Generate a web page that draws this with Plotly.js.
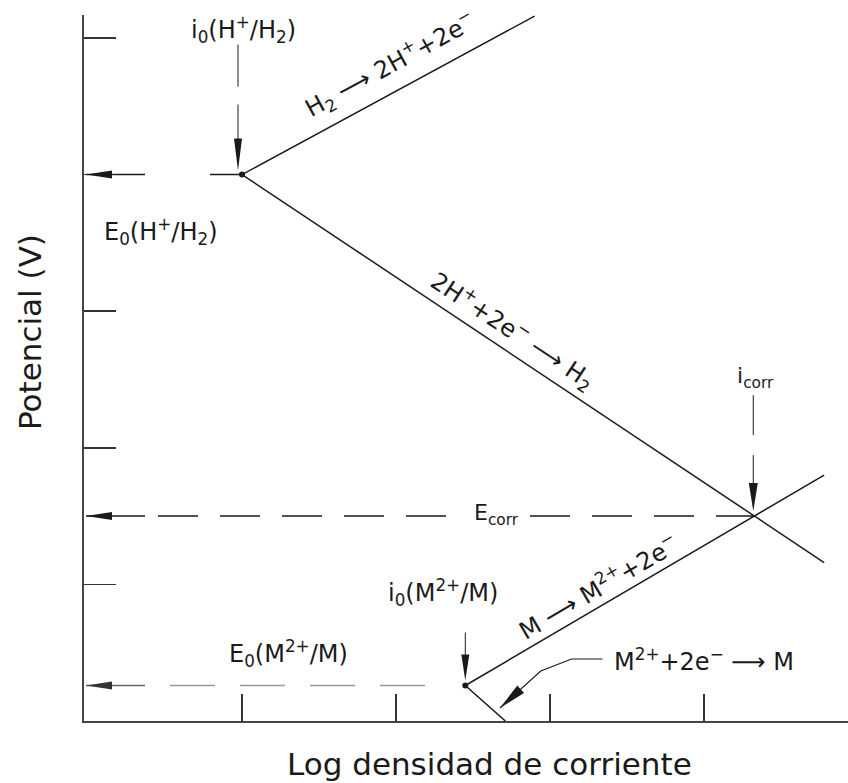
<!DOCTYPE html>
<html>
<head>
<meta charset="utf-8">
<script src="https://cdn.plot.ly/plotly-3.0.1.min.js"></script>
<style>html,body{margin:0;padding:0;background:#fff;}</style>
</head>
<body>
<div id="chart" style="width:848px;height:783px;"></div>
<script>
// ---- data (units: x = log current density, y = potential, arbitrary) ----
const xTicks = [1, 2, 3, 4];
const yTicks = [1, 2, 3, 4, 5];
const ptI0H   = [1.00, 4.00];   // i0(H+/H2), E0(H+/H2)
const endHox  = [2.90, 5.16];   // H2 -> 2H+ + 2e-
const endHred = [4.78, 1.16];   // 2H+ + 2e- -> H2
const ptI0M   = [2.45, 0.26];   // i0(M2+/M), E0(M2+/M)
const endMox  = [4.78, 1.80];   // M -> M2+ + 2e-
const endMred = [2.71, 0.00];   // M2+ + 2e- -> M
const ptCorr  = [4.32, 1.50];   // icorr, Ecorr
const leaderX = [3.34, 3.14, 2.94];
const leaderY = [0.454, 0.454, 0.366];
const leaderTip = [2.675, 0.095];

const xr = [-0.026, 4.935], yr = [0, 5.168];
const W = 848, H = 783, M = {l: 84, r: 0, t: 15, b: 62};
const kx = (W - M.l - M.r) / (xr[1] - xr[0]);
const ky = (H - M.t - M.b) / (yr[1] - yr[0]);
const px2x = p => (p) / kx, px2y = p => (p) / ky;

const ink = '#1a1a1a';
const FONT = 'DejaVu Sans, Liberation Sans, Arial, sans-serif';

function seg(xs, ys, opts) {
  return Object.assign({type: 'scatter', mode: 'lines', x: xs, y: ys, hoverinfo: 'skip',
    showlegend: false, line: {color: ink, width: 1.5}}, opts || {});
}
// arrowhead as a filled triangle path (tip, direction from 'from' point)
function head(tip, from, len, hw, color) {
  const dxp = (tip[0] - from[0]) * kx, dyp = -(tip[1] - from[1]) * ky;
  const L = Math.hypot(dxp, dyp), ux = dxp / L, uy = dyp / L;
  const bx = -len * ux, by = -len * uy, nx = -uy * hw, ny = ux * hw;
  const toD = (ox, oy) => [tip[0] + ox / kx, tip[1] - oy / ky];
  const a = toD(bx + nx, by + ny), b = toD(bx - nx, by - ny);
  return {type: 'path', xref: 'x', yref: 'y', path: `M${tip[0]},${tip[1]} L${a[0]},${a[1]} L${b[0]},${b[1]} Z`,
    fillcolor: color || ink, line: {width: 0}};
}

const axisLeftX = xr[0] + px2x(2);
const tailX = ptI0H[0] - px2x(97);   // horizontal arrow tails (x ~ 145px)

const traces = [
  seg([ptI0H[0], endHox[0]], [ptI0H[1], endHox[1]]),
  seg([ptI0H[0], endHred[0]], [ptI0H[1], endHred[1]]),
  seg([ptI0M[0], endMox[0]], [ptI0M[1], endMox[1]]),
  seg([ptI0M[0], endMred[0]], [ptI0M[1], endMred[1]]),
  // E0(H+/H2) level
  seg([axisLeftX, tailX], [ptI0H[1], ptI0H[1]]),
  seg([ptI0H[0] - px2x(32), ptI0H[0]], [ptI0H[1], ptI0H[1]]),
  // Ecorr level
  seg([axisLeftX, tailX], [ptCorr[1], ptCorr[1]]),
  seg([tailX + px2x(13), ptCorr[0]], [ptCorr[1], ptCorr[1]], {line: {color: ink, width: 1.5, dash: '40px,22px'}}),
  // E0(M2+/M) level (grey)
  seg([axisLeftX, tailX], [ptI0M[1], ptI0M[1]], {line: {color: '#666', width: 1.5}}),
  seg([tailX + px2x(25), ptI0M[0] - px2x(35)], [ptI0M[1], ptI0M[1]], {line: {color: '#999', width: 1.5, dash: '45px,25px'}}),
  // vertical pointers
  seg([ptI0H[0] - px2x(4), ptI0H[0] - px2x(4)], [ptI0H[1] + px2y(130), ptI0H[1] + px2y(88)], {line: {color: ink, width: 1}}),
  seg([ptI0H[0] - px2x(4), ptI0H[0] - px2x(4)], [ptI0H[1] + px2y(70), ptI0H[1] + px2y(30)], {line: {color: ink, width: 1}}),
  seg([ptCorr[0], ptCorr[0]], [ptCorr[1] + px2y(121), ptCorr[1] + px2y(81)], {line: {color: ink, width: 1}}),
  seg([ptCorr[0], ptCorr[0]], [ptCorr[1] + px2y(61), ptCorr[1] + px2y(30)], {line: {color: ink, width: 1}}),
  seg([ptI0M[0], ptI0M[0]], [ptI0M[1] + px2y(53), ptI0M[1] + px2y(30)], {line: {color: ink, width: 1}}),
  // leader for M2+ + 2e- -> M
  seg(leaderX.concat([leaderTip[0]]), leaderY.concat([leaderTip[1]]), {line: {color: ink, width: 1.2}}),
  // exchange current points
  {type: 'scatter', mode: 'markers', x: [ptI0H[0], ptI0M[0]], y: [ptI0H[1], ptI0M[1]], hoverinfo: 'skip',
    showlegend: false, marker: {color: ink, size: 6}}
];

const shapes = [
  head([axisLeftX, ptI0H[1]], [tailX, ptI0H[1]], 26, 4),
  head([axisLeftX, ptCorr[1]], [tailX, ptCorr[1]], 26, 4),
  head([axisLeftX, ptI0M[1]], [tailX, ptI0M[1]], 26, 4, '#333'),
  head([ptI0H[0] - px2x(4), ptI0H[1] + px2y(4)], [ptI0H[0] - px2x(4), ptI0H[1] + px2y(60)], 32, 4),
  head([ptCorr[0], ptCorr[1] + px2y(5)], [ptCorr[0], ptCorr[1] + px2y(60)], 28, 4.5),
  head([ptI0M[0], ptI0M[1] + px2y(5)], [ptI0M[0], ptI0M[1] + px2y(60)], 26, 4),
  head(leaderTip, [leaderX[2], leaderY[2]], 28, 5)
];

function lab(x, y, text, size, angle, extra) {
  return Object.assign({xref: 'x', yref: 'y', x: x, y: y, text: text, showarrow: false,
    textangle: angle || 0, font: {family: FONT, size: size, color: ink}, xanchor: 'center', yanchor: 'middle'}, extra || {});
}
const toX = p => xr[0] + (p - M.l) / kx;
const toY = p => yr[0] + (H - M.b - p) / ky;

const annotations = [
  lab(toX(243), toY(29), 'i<sub>0</sub>(H<sup>+</sup>/H<sub>2</sub>)', 24),
  lab(toX(161), toY(231), 'E<sub>0</sub>(H<sup>+</sup>/H<sub>2</sub>)', 24),
  lab(toX(390), toY(64), 'H<sub>2</sub> ⟶ 2H<sup>+</sup>+2e<sup>−</sup>', 24, -28.6),
  lab(toX(513), toY(330), '2H<sup>+</sup>+2e<sup>−</sup> ⟶ H<sub>2</sub>', 24, 33.4),
  lab(toX(755), toY(377), 'i<sub>corr</sub>', 22),
  lab(toX(496), toY(514), 'E<sub>corr</sub>', 22, 0, {bgcolor: '#ffffff', borderpad: 6}),
  lab(toX(598), toY(586), 'M ⟶ M<sup>2+</sup>+2e<sup>−</sup>', 24, -30.4),
  lab(toX(443), toY(592), 'i<sub>0</sub>(M<sup>2+</sup>/M)', 24),
  lab(toX(288), toY(653), 'E<sub>0</sub>(M<sup>2+</sup>/M)', 24),
  lab(toX(704), toY(660), 'M<sup>2+</sup>+2e<sup>−</sup> ⟶ M', 24),
  {xref: 'paper', yref: 'paper', x: (489 - M.l) / (W - M.l - M.r), y: (H - M.b - 764) / (H - M.t - M.b),
    text: 'Log densidad de corriente', showarrow: false, font: {family: FONT, size: 31, color: ink},
    xanchor: 'center', yanchor: 'middle'},
  {xref: 'paper', yref: 'paper', x: (30 - M.l) / (W - M.l - M.r), y: (H - M.b - 332) / (H - M.t - M.b),
    text: 'Potencial (V)', showarrow: false, textangle: -90, font: {family: FONT, size: 31, color: ink},
    xanchor: 'center', yanchor: 'middle'}
];

const layout = {
  width: W, height: H, margin: M, paper_bgcolor: '#fff', plot_bgcolor: '#fff', showlegend: false,
  xaxis: {range: xr, showgrid: false, zeroline: false, showline: true, linecolor: '#444', linewidth: 2,
    ticks: 'inside', ticklen: 27, tickwidth: 1.5, tickcolor: '#333', tickvals: xTicks, showticklabels: false, fixedrange: true},
  yaxis: {range: yr, showgrid: false, zeroline: false, showline: true, linecolor: '#444', linewidth: 2,
    ticks: 'inside', ticklen: 32, tickwidth: 1.5, tickcolor: '#333', tickvals: yTicks, showticklabels: false, fixedrange: true},
  shapes: shapes,
  annotations: annotations
};
Plotly.newPlot('chart', traces, layout, {staticPlot: true, displayModeBar: false});
</script>
</body>
</html>
